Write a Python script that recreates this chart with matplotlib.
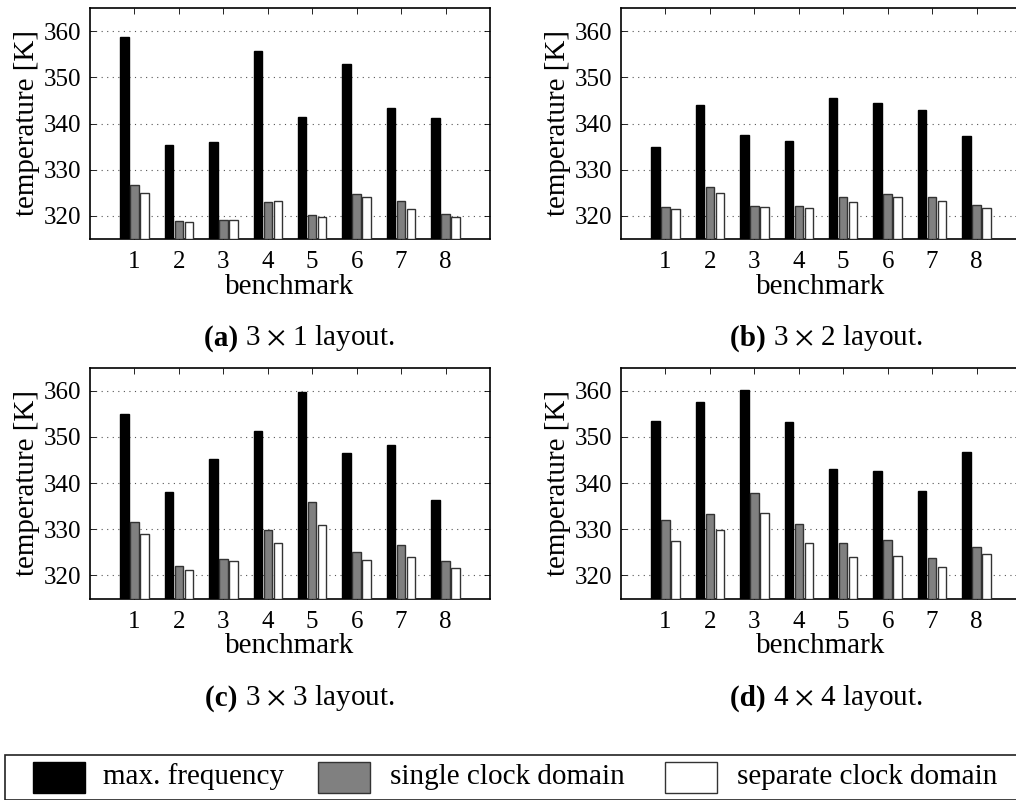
import matplotlib
matplotlib.use("Agg")
import matplotlib.pyplot as plt
from matplotlib.patches import Rectangle
import numpy as np

plt.rcParams['font.family'] = ['Liberation Serif', 'DejaVu Serif']
plt.rcParams['mathtext.fontset'] = 'stix'

benchmarks = [1, 2, 3, 4, 5, 6, 7, 8]
series_names = ["max. frequency", "single clock domain", "separate clock domain"]
series_colors = ["#000000", "#808080", "#ffffff"]
series_edges = ["#000000", "#333333", "#333333"]

# temperatures [K] per layout: max. frequency / single clock / separate clock
layout_3x1_max = [358.7, 335.3, 336.1, 355.8, 341.5, 352.8, 343.3, 341.1]
layout_3x1_single = [326.6, 319.0, 319.1, 323.1, 320.3, 324.8, 323.3, 320.4]
layout_3x1_separate = [324.9, 318.7, 319.1, 323.2, 319.7, 324.0, 321.4, 319.8]

layout_3x2_max = [334.9, 344.1, 337.5, 336.2, 345.6, 344.5, 343.0, 337.3]
layout_3x2_single = [322.0, 326.2, 322.1, 322.1, 324.1, 324.7, 324.1, 322.3]
layout_3x2_separate = [321.5, 325.0, 321.9, 321.7, 323.0, 324.1, 323.2, 321.7]

layout_3x3_max = [355.0, 338.1, 345.2, 351.2, 359.7, 346.5, 348.3, 336.4]
layout_3x3_single = [331.5, 322.0, 323.6, 329.8, 335.9, 325.0, 326.5, 323.2]
layout_3x3_separate = [328.9, 321.2, 323.2, 327.1, 330.9, 323.4, 324.0, 321.6]

layout_4x4_max = [353.4, 357.6, 360.2, 353.3, 343.1, 342.5, 338.2, 346.7]
layout_4x4_single = [332.0, 333.3, 337.8, 331.2, 327.1, 327.7, 323.8, 326.1]
layout_4x4_separate = [327.5, 329.9, 333.5, 327.1, 324.0, 324.1, 321.8, 324.6]

y_ticks = [320, 330, 340, 350, 360]
captions = [("(a)", r"3 $\times$ 1 layout."), ("(b)", r"3 $\times$ 2 layout."),
            ("(c)", r"3 $\times$ 3 layout."), ("(d)", r"4 $\times$ 4 layout.")]

panels = [
    (layout_3x1_max, layout_3x1_single, layout_3x1_separate),
    (layout_3x2_max, layout_3x2_single, layout_3x2_separate),
    (layout_3x3_max, layout_3x3_single, layout_3x3_separate),
    (layout_4x4_max, layout_4x4_single, layout_4x4_separate),
]

W, H = 1016, 800
fig = plt.figure(figsize=(W / 100, H / 100), dpi=100)

# axes boxes in pixels: left, top
ax_boxes = [(90, 8), (621, 8), (90, 367.5), (621, 367.5)]
ax_w, ax_h = 400, 231
caption_centers = [(245, 338), (773, 338), (245, 698), (773, 698)]

x = np.array(benchmarks, dtype=float)
offsets = [-0.225, 0.0, 0.225]
bar_w = 0.19

for (left, top), data, cap, (cx, cy) in zip(ax_boxes, panels, captions, caption_centers):
    ax = fig.add_axes([left / W, (H - top - ax_h) / H, ax_w / W, ax_h / H])
    for vals, off, fc, ec in zip(data, offsets, series_colors, series_edges):
        ax.bar(x + off, np.array(vals) - 315, bottom=315, width=bar_w,
               color=fc, edgecolor=ec, linewidth=1.0, zorder=3)
    ax.set_xlim(0, 9)
    ax.set_ylim(315, 365)
    ax.set_xticks(benchmarks)
    ax.set_yticks(y_ticks)
    ax.yaxis.grid(True, linestyle=(0, (1, 4)), color="#555555", linewidth=0.8, zorder=0)
    ax.tick_params(axis="both", direction="in", length=4, width=0.6,
                   labelsize=18, top=True, right=True)
    ax.tick_params(axis="x", pad=9)
    ax.tick_params(axis="y", pad=6)
    ax.set_xlabel("benchmark", fontsize=21, labelpad=0)
    ax.set_ylabel("temperature [K]", fontsize=21, labelpad=3)
    for s in ax.spines.values():
        s.set_linewidth(1.2)
    tag, rest = cap
    fig.text(cx / W, 1 - cy / H, tag + " ", fontsize=21, fontweight="bold",
             ha="right", va="center")
    fig.text(cx / W, 1 - cy / H, rest, fontsize=21, ha="left", va="center")

# legend strip along the bottom
fig.patches.append(Rectangle((5 / W, 0), (W + 10) / W, (H - 755) / H,
                             transform=fig.transFigure, fill=False,
                             edgecolor="#222222", linewidth=1.2, clip_on=False))
patch_x = [33, 318, 665]
text_x = [103, 390, 737]
for name, fc, ec, px, tx in zip(series_names, series_colors, series_edges, patch_x, text_x):
    fig.patches.append(Rectangle((px / W, 1 - 793 / H), 52 / W, 31 / H,
                                 transform=fig.transFigure, facecolor=fc,
                                 edgecolor=ec, linewidth=1.0))
    fig.text(tx / W, 1 - 777 / H, name, fontsize=21, ha="left", va="center")

fig.savefig("out.png", dpi=100)
